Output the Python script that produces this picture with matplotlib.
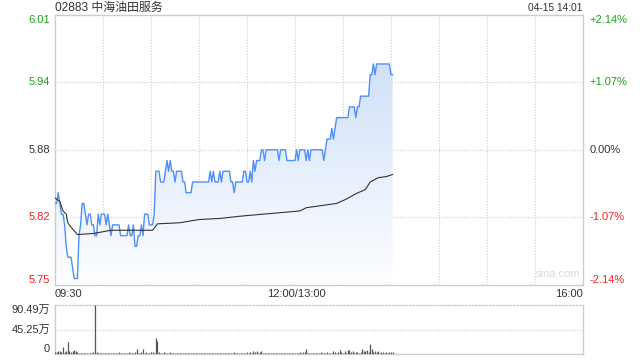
import numpy as np
import matplotlib
matplotlib.use("Agg")
from matplotlib import pyplot as plt

plt.rcParams['font.family'] = ['Liberation Sans', 'Noto Sans CJK SC', 'DejaVu Sans']

# ---------------- dati ----------------
titolo = "02883 中海油田服务"
ora = "04-15 14:01"
chiusura_prec = 5.88
escursione = 0.0214

prezzi = [
    5.83, 5.83, 5.84, 5.83, 5.82, 5.82, 5.81, 5.79, 5.78, 5.78,
    5.78, 5.77, 5.76, 5.76, 5.76, 5.80, 5.81, 5.83, 5.83, 5.82,
    5.81, 5.82, 5.82, 5.81, 5.81, 5.80, 5.80, 5.82, 5.81, 5.82,
    5.82, 5.82, 5.81, 5.82, 5.81, 5.80, 5.81, 5.81, 5.81, 5.81,
    5.81, 5.80, 5.80, 5.80, 5.80, 5.80, 5.81, 5.80, 5.80, 5.81,
    5.79, 5.79, 5.80, 5.80, 5.81, 5.80, 5.82, 5.82, 5.82, 5.81,
    5.81, 5.81, 5.82, 5.86, 5.86, 5.86, 5.85, 5.85, 5.85, 5.86,
    5.87, 5.86, 5.87, 5.86, 5.86, 5.85, 5.86, 5.86, 5.86, 5.86,
    5.85, 5.85, 5.84, 5.84, 5.84, 5.84, 5.85, 5.85, 5.85, 5.85,
    5.85, 5.85, 5.85, 5.85, 5.85, 5.85, 5.85, 5.86, 5.85, 5.86,
    5.85, 5.85, 5.85, 5.86, 5.85, 5.86, 5.86, 5.86, 5.86, 5.86,
    5.85, 5.85, 5.84, 5.85, 5.85, 5.85, 5.85, 5.85, 5.86, 5.86,
    5.85, 5.85, 5.86, 5.85, 5.87, 5.86, 5.87, 5.87, 5.87, 5.88,
    5.88, 5.87, 5.88, 5.88, 5.88, 5.88, 5.88, 5.88, 5.88, 5.88,
    5.87, 5.88, 5.88, 5.88, 5.88, 5.87, 5.87, 5.87, 5.87, 5.87,
    5.87, 5.88, 5.87, 5.88, 5.88, 5.88, 5.88, 5.87, 5.88, 5.87,
    5.88, 5.88, 5.88, 5.88, 5.88, 5.88, 5.88, 5.88, 5.87, 5.88,
    5.89, 5.89, 5.89, 5.90, 5.89, 5.90, 5.91, 5.91, 5.91, 5.91,
    5.91, 5.91, 5.91, 5.91, 5.92, 5.92, 5.92, 5.92, 5.91, 5.92,
    5.92, 5.93, 5.93, 5.93, 5.93, 5.93, 5.93, 5.95, 5.95, 5.96,
    5.95, 5.96, 5.96, 5.96, 5.96, 5.96, 5.96, 5.96, 5.96, 5.96,
    5.95, 5.95,
]

# prezzo medio (minuto, valore)
media_min = [0, 3, 5, 7, 8, 10, 14, 24, 35, 49, 61, 64, 78, 90, 103, 115,
             130, 153, 157, 176, 182, 188, 194, 197, 202, 207, 211]
media_val = [5.835, 5.832, 5.823, 5.820, 5.812, 5.808, 5.801, 5.802, 5.805,
             5.805, 5.805, 5.811, 5.812, 5.815, 5.816, 5.818, 5.820, 5.823,
             5.826, 5.830, 5.834, 5.839, 5.843, 5.850, 5.854, 5.855, 5.857]

# volumi (万)
volumi = [
    4, 3, 5, 6, 3, 13, 4, 5, 23, 5, 3, 6, 7, 5, 3, 2,
    2, 1, 2, 1, 1, 2, 1, 2, 3,
    90,
    3, 2, 1, 2, 1, 1, 2, 1, 1, 2,
    1, 1, 2, 1, 3, 2, 1, 1, 2, 1, 3, 2, 1, 2, 4,
    10,
    2, 1, 3,
    9,
    2, 3, 2, 1, 4, 3, 2,
    30, 24,
    3, 2, 1, 3, 2, 1, 2, 3, 1, 2, 1, 2, 1, 1, 2, 1,
    1, 2, 1, 1, 2, 1, 1, 1, 2, 1, 1, 2, 1, 1, 1, 2, 1, 1, 2, 1,
    1, 1, 2, 1, 1, 1, 2, 1, 1, 2, 1, 3, 1, 1, 2, 1, 1, 2, 1, 3,
    2, 4, 2, 5, 3, 6, 2, 3, 5, 2, 1, 2, 1, 1, 2, 1, 1, 2, 1, 1,
    2, 1, 1, 2, 1, 2, 1, 1, 2, 1, 1, 2, 3, 2, 4, 3, 9, 2, 1, 2,
    1, 2, 1, 1, 2, 3, 1, 2, 1, 3, 2, 1, 2, 5, 3, 2, 4, 8, 3, 2,
    6, 2, 8, 7, 3, 5, 2, 3, 4, 2, 3, 10, 5, 6, 8, 4, 18, 10, 4, 6,
    3, 5, 2, 4, 3, 2, 4, 2, 3, 4, 3,
]
vol_max = 90.49

etichette_prezzo = ["6.01", "5.94", "5.88", "5.82", "5.75"]
etichette_perc = ["+2.14%", "+1.07%", "0.00%", "-1.07%", "-2.14%"]
etichette_vol = ["90.49万", "45.25万", "0"]
etichette_ora = ["09:30", "12:00/13:00", "16:00"]

# ---------------- colori ----------------
VERDE = "#1aa31a"
ROSSO = "#ee2222"
GRIGIO = "#333333"
BORDO = "#cccccc"
colori_livelli = [VERDE, VERDE, GRIGIO, ROSSO, ROSSO]

minuti = np.arange(len(prezzi))
prezzi = np.array(prezzi)
ymin = chiusura_prec * (1 - escursione)
ymax = chiusura_prec * (1 + escursione)
livelli = np.linspace(ymax, ymin, 5)

fig = plt.figure(figsize=(6.4, 3.6), dpi=100)
ax = fig.add_axes([55/640, 1 - 284.8/360, 528/640, 270/360])
axv = fig.add_axes([55/640, 1 - 354/360, 528/640, 49/360])

# ---------------- grafico prezzo ----------------
ax.set_xlim(0, 330)
ax.set_ylim(ymin, ymax)
for xv in range(30, 330, 30):
    ax.axvline(xv, color=BORDO, lw=0.8, ls=(0, (1, 1.5)), zorder=1)
for yv in livelli[1:-1]:
    ax.axhline(yv, color=BORDO, lw=0.8, ls=(0, (1, 1.5)), zorder=1)

# riempimento sfumato sotto la linea
poly = ax.fill_between(minuti, prezzi, ymin, color="none", lw=0)
grad = np.linspace(0, 1, 256).reshape(-1, 1)
c_top = np.array([200, 218, 248]) / 255.
c_bot = np.array([253, 254, 255]) / 255.
img = c_bot + (c_top - c_bot) * grad[::-1]
img = np.repeat(img[:, None, :], 2, axis=1).reshape(256, 2, 3)
im = ax.imshow(img, extent=[0, 330, ymin, ymax], aspect="auto", origin="upper", zorder=2)
im.set_clip_path(poly.get_paths()[0], transform=ax.transData)

ax.plot(minuti, prezzi, color="#4f8ff7", lw=1.0, zorder=4)
ax.plot(media_min, media_val, color="#333333", lw=0.8, zorder=4)

ax.set_xticks([])
ax.set_yticks([])
for s in ax.spines.values():
    s.set_color(BORDO)
    s.set_linewidth(1)

# etichette sinistra / destra
va_list = ["top", "center", "center", "center", "bottom"]
for yv, t, tp, c, va in zip(livelli, etichette_prezzo, etichette_perc, colori_livelli, va_list):
    ax.text(-0.009, yv, t, transform=ax.get_yaxis_transform(), ha="right", va=va,
            fontsize=8, color=c)
    ax.text(1.013, yv, tp, transform=ax.get_yaxis_transform(), ha="left", va=va,
            fontsize=8, color=c)

ax.text(0.995, 0.02, "sina.com", transform=ax.transAxes, ha="right", va="bottom",
        fontsize=8, color="#d8d8d8")

# etichette orarie
fig.text(55/640, 1 - 294/360, etichette_ora[0], ha="left", va="center", fontsize=8, color=GRIGIO)
fig.text(296/640, 1 - 294/360, etichette_ora[1], ha="center", va="center", fontsize=8, color=GRIGIO)
fig.text(583/640, 1 - 294/360, etichette_ora[2], ha="right", va="center", fontsize=8, color=GRIGIO)

# intestazione
fig.text(55/640, 1 - 8/360, titolo, ha="left", va="center", fontsize=8.6, color=GRIGIO)
fig.text(582/640, 1 - 8/360, ora, ha="right", va="center", fontsize=7.4, color=GRIGIO)

# ---------------- volumi ----------------
axv.set_xlim(0, 330)
axv.set_ylim(0, vol_max)
axv.vlines(np.arange(len(volumi)), 0, volumi, color="#555555", lw=0.9, zorder=3)
axv.axhline(vol_max / 2, color=BORDO, lw=0.8, ls=(0, (1, 1.5)), zorder=1)
axv.set_xticks([])
axv.set_yticks([])
for k, s in axv.spines.items():
    s.set_color(BORDO)
    s.set_linewidth(1)
axv.spines["top"].set_linestyle((0, (1, 1.5)))
for yv, t, va in zip([vol_max, vol_max / 2, 0], etichette_vol, ["top", "center", "bottom"]):
    axv.text(-0.009, yv, t, transform=axv.get_yaxis_transform(), ha="right", va=va,
             fontsize=8, color=GRIGIO)

fig.savefig("out.png", dpi=100)
